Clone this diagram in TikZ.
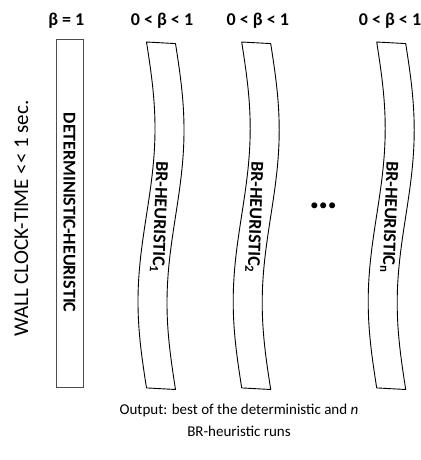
\documentclass[tikz,border=0pt]{standalone}
\usepackage{fontspec}
\setmainfont{Carlito}
\newcommand\wavecolumn[1]{%
  % wavy column: both long edges follow one full sine period
  \draw[bannerline]
    plot[domain=0:1,samples=61,smooth] ({#1+8.5*sin(360*\x)},{42+346*\x})
    -- plot[domain=1:0,samples=61,smooth] ({#1+29+8.5*sin(360*\x)},{43.5+346*\x})
    -- cycle;}
\begin{document}
\begin{tikzpicture}[x=1pt,y=-1pt,
  bannerline/.style={draw=black,line width=0.9pt,line join=round},
  rectline/.style={draw=black!70,line width=0.9pt},
  boldlabel/.style={font=\fontsize{18}{20}\selectfont\bfseries,anchor=base,inner sep=0pt},
  plainlabel/.style={font=\fontsize{21}{26}\selectfont,inner sep=0pt}]
\useasboundingbox (0,0) rectangle (420,460);

% column headers
\node[boldlabel] (h0) at (66.3,25.7) {β = 1};
\node[boldlabel] (h1) at (162,25.7) {0 < β < 1};
\node[boldlabel] (h2) at (257.8,25.7) {0 < β < 1};
\node[boldlabel] (hn) at (390,25.7) {0 < β < 1};

% deterministic run
\draw[rectline] (56.7,39.3) rectangle (83.3,387.3);
\node[boldlabel,rotate=-90] (det) at (63.5,212.5) {DETERMINISTIC-HEURISTIC};

% randomised runs
\wavecolumn{146.5}
\wavecolumn{241.7}
\wavecolumn{376.7}
\node[boldlabel,rotate=-92] (br1) at (154.5,217) {BR-HEURISTIC\textsubscript{1}};
\node[boldlabel,rotate=-92] (br2) at (249.7,217) {BR-HEURISTIC\textsubscript{2}};
\node[boldlabel,rotate=-92] (brn) at (384.7,217) {BR-HEURISTIC\textsubscript{n}};

\node[font=\fontsize{40}{40}\selectfont\bfseries,anchor=base,inner sep=0pt] (dots) at (324,208) {…};

% time axis label
\node[plainlabel,anchor=base,rotate=90] (clock) at (28,218.5) {WALL CLOCK-TIME <\kern0pt< 1 sec.};

% result
\node[font=\fontsize{15}{22}\selectfont,inner sep=0pt,align=center,anchor=north] (out) at (239,404) {Output: best of the deterministic and \textit{n}\\BR-heuristic runs};
\end{tikzpicture}
\end{document}
